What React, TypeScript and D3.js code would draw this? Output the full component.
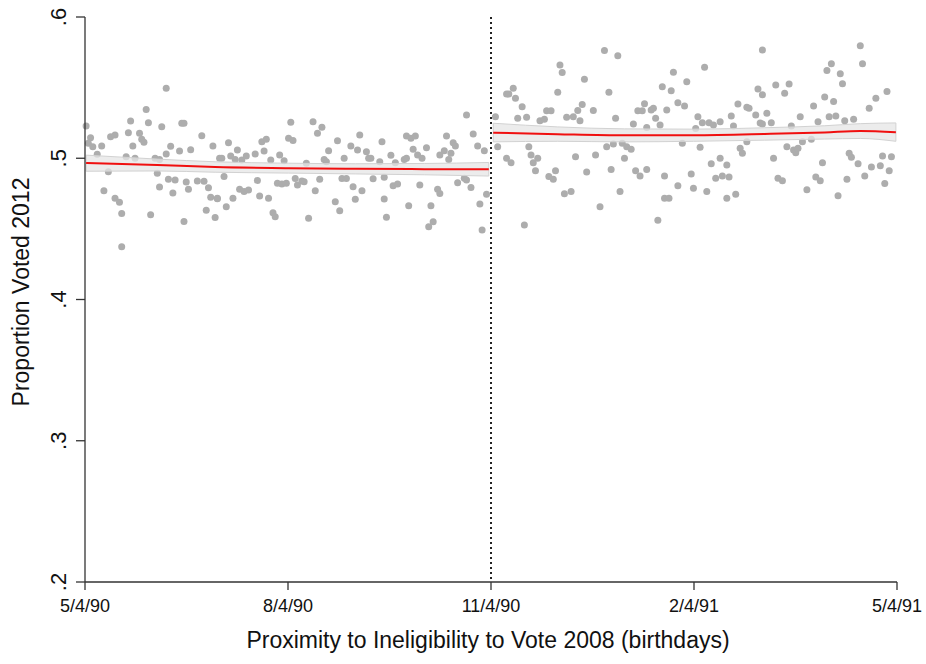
import * as d3 from "d3"

// days from the 11/4/90 cutoff, and the share of that birthday cohort who voted in 2012
const leftDays = [
  -182, -180, -181, -179, -175, -177, -171, -169, -172, -174, -169, -167, -166, -166, -163, -162, -161, -164,
  -158, -157, -156, -155, -154, -146, -148, -151, -149, -150, -149, -153, -145, -142, -143, -146, -144, -140,
  -139, -138, -135, -137, -136, -132, -129, -127, -130, -125, -126, -123, -128, -124, -138, -122, -160,
  -121, -118, -114, -117, -115, -112, -110, -106, -103, -101, -102, -120, -123, -116, -119, -113, -111, -109,
  -105, -104, -100, -98, -97, -99, -95, -93, -96, -94, -92, -90, -91, -89, -88, -87, -85, -84, -83, -82, -80,
  -78, -76, -77, -79, -75, -74, -73, -69, -66, -67, -65, -70, -68, -63, -62, -61,
  -59, -60, -56, -55, -54, -50, -49, -45, -43, -58, -53, -48, -44, -42, -48, -47, -39, -38, -38, -36, -34, -35,
  -33, -31, -29, -37, -32, -27, -26, -28, -24, -23, -23, -21, -18, -20, -17, -16, -19, -15, -12, -11, -9, -11,
  -8, -6, -3, -2, -5, -4,
]
const leftShares = [
  0.5228, 0.5146, 0.5106, 0.5082, 0.5087, 0.5028, 0.5153, 0.5165, 0.4905, 0.477, 0.4716, 0.4688, 0.4608, 0.4374,
  0.5181, 0.5264, 0.5087, 0.5011, 0.5177, 0.5134, 0.5113, 0.5346, 0.5252, 0.5495, 0.5223, 0.5, 0.4992, 0.4893,
  0.4796, 0.46, 0.4851, 0.4846, 0.4754, 0.503, 0.5085, 0.5051, 0.5247, 0.5247, 0.5061, 0.4832, 0.478, 0.4839,
  0.4837, 0.4792, 0.516, 0.5087, 0.4724, 0.4714, 0.4632, 0.4581, 0.4552, 0.5, 0.5,
  0.5, 0.511, 0.5058, 0.5016, 0.4992, 0.4988, 0.5016, 0.503, 0.5116, 0.5134, 0.5051, 0.4871, 0.4716, 0.4716,
  0.4657, 0.4781, 0.4765, 0.4775, 0.4843, 0.4733, 0.4716, 0.4614, 0.4585, 0.4988, 0.5023, 0.4983, 0.4823,
  0.4818, 0.4823, 0.5255, 0.5142, 0.5126, 0.4857, 0.481, 0.4839, 0.4834, 0.4964, 0.4575, 0.5259, 0.5177,
  0.5219, 0.4851, 0.477, 0.4992, 0.4976, 0.5053, 0.5124, 0.5, 0.4857, 0.4857, 0.4692, 0.4629, 0.5087, 0.4799,
  0.4709,
  0.5165, 0.5058, 0.5046, 0.5, 0.5, 0.4976, 0.5116, 0.5021, 0.4968, 0.477, 0.4854, 0.4866, 0.4805, 0.4817,
  0.4712, 0.4582, 0.4992, 0.5, 0.5158, 0.5141, 0.5158, 0.5063, 0.5023, 0.5, 0.5075, 0.4664, 0.4811, 0.4664,
  0.4551, 0.4515, 0.4781, 0.475, 0.5023, 0.5053, 0.5035, 0.5158, 0.511, 0.5087, 0.4992, 0.4827, 0.4858,
  0.4846, 0.4793, 0.5306, 0.5172, 0.5087, 0.5053, 0.4746, 0.4676, 0.4492,
]
const rightDays = [
  2, 3, 7, 8, 10, 11, 14, 12, 16, 7, 9, 17, 18, 19, 21, 20, 15, 22, 24, 25, 27, 26, 28, 29, 30, 31, 32, 34, 37,
  33, 36, 39, 41, 40, 38, 42, 43, 46, 47, 49, 51, 57, 53, 56, 52, 55, 54, 58, 59, 61, 60,
  63, 64, 65, 67, 70, 66, 68, 69, 72, 73, 70, 74, 76, 77, 82, 81, 79, 78, 78, 80, 75, 84, 84, 87, 88, 86, 90,
  91, 92, 93, 94, 96, 95, 98, 100, 103, 97, 99, 103, 106, 101, 104, 107, 106, 110, 108, 111, 109, 112, 113,
  115, 115, 116, 119, 120, 122, 121, 122,
  124, 122, 126, 128, 134, 132, 127, 129, 131, 133, 136, 137, 138, 135, 139, 140, 142, 145, 147, 144, 146, 148,
  149, 150, 154, 151, 153, 157, 158, 152, 155, 159, 163, 156, 160, 161, 162, 165, 166, 167, 168, 170, 171, 175,
  173, 178, 176, 180, 179, 177,
]
const rightShares = [
  0.5294, 0.5082, 0.5455, 0.5455, 0.5495, 0.5425, 0.5365, 0.5283, 0.529, 0.5, 0.4969, 0.5082, 0.5023, 0.4969,
  0.5, 0.4912, 0.4527, 0.5266, 0.5276, 0.5337, 0.5337, 0.4871, 0.4851, 0.4912, 0.5468, 0.5661, 0.5607, 0.529,
  0.5294, 0.4749, 0.4765, 0.5338, 0.538, 0.5266, 0.5011, 0.5559, 0.4902, 0.5338, 0.5023, 0.4657, 0.5762,
  0.5725, 0.5468, 0.5283, 0.5082, 0.5101, 0.4921, 0.4765, 0.5106, 0.5082, 0.5,
  0.5063, 0.5243, 0.4912, 0.4875, 0.4921, 0.5337, 0.5337, 0.5385, 0.5342, 0.5354, 0.5217, 0.5283, 0.5236,
  0.5507, 0.5609, 0.5477, 0.5342, 0.4875, 0.4716, 0.4716, 0.4561, 0.4806, 0.5393, 0.537, 0.5542, 0.5106,
  0.4889, 0.4788, 0.521, 0.5293, 0.5077, 0.5644, 0.5252, 0.5252, 0.5236, 0.5259, 0.4765, 0.4961, 0.5, 0.4953,
  0.4858, 0.4875, 0.4867, 0.4716, 0.4746, 0.5299, 0.5384, 0.5228, 0.5071, 0.5035, 0.5116, 0.5361, 0.5354,
  0.5307, 0.549, 0.545, 0.5249, 0.5767,
  0.5319, 0.5243, 0.5252, 0.5519, 0.5526, 0.546, 0.5, 0.4858, 0.4841, 0.5082, 0.5058, 0.5039, 0.5071, 0.5228,
  0.5294, 0.5116, 0.4777, 0.537, 0.5259, 0.5134, 0.4867, 0.4841, 0.4968, 0.5434, 0.5401, 0.5621, 0.5669,
  0.5598, 0.5527, 0.5294, 0.5299, 0.5266, 0.5276, 0.4735, 0.4851, 0.5035, 0.5007, 0.4961, 0.5796, 0.5669,
  0.4875, 0.5354, 0.4938, 0.4947, 0.5425, 0.5472, 0.5016, 0.5011, 0.4912, 0.4822,
]

// local fit with 95% band, each side of the cutoff
const fitLeftDays = [-182, -150, -124, -91, -61, -30, -1]
const fitLeft = [0.4966, 0.4952, 0.4938, 0.493, 0.4925, 0.4923, 0.4922]
const fitLeftLo = [0.4908, 0.491, 0.4901, 0.4895, 0.4889, 0.4883, 0.4874]
const fitLeftHi = [0.5022, 0.4994, 0.4975, 0.4965, 0.4961, 0.4963, 0.497]
const fitRightDays = [1, 30, 60, 91, 123, 150, 166, 182]
const fitRight = [0.5181, 0.517, 0.5162, 0.5163, 0.5172, 0.5183, 0.5193, 0.5184]
const fitRightLo = [0.5116, 0.512, 0.5116, 0.512, 0.5128, 0.5136, 0.514, 0.512]
const fitRightHi = [0.5248, 0.5222, 0.5208, 0.5206, 0.5216, 0.523, 0.5245, 0.525]

const xTicks = [-182.5, -91.25, 0, 91.25, 182.5]
const xTickLabels = ["5/4/90", "8/4/90", "11/4/90", "2/4/91", "5/4/91"]
const yTicks = [0.2, 0.3, 0.4, 0.5, 0.6]
const yTickLabels = [".2", ".3", ".4", ".5", ".6"]

const W = 926
const H = 664
const FONT = "'Liberation Sans', Arial, Helvetica, sans-serif"
const AXIS = "#333"

export default function App() {
  const x = d3.scaleLinear().domain([-182.5, 182.5]).range([85, 897])
  const y = d3.scaleLinear().domain([0.2, 0.6]).range([582, 17])

  const pts = [
    ...leftDays.map((d, i) => ({ d, v: leftShares[i] })),
    ...rightDays.map((d, i) => ({ d, v: rightShares[i] })),
  ]

  const band = d3.area<number>()
    .x(d => x(d))
    .curve(d3.curveMonotoneX)
  const line = d3.line<number>()
    .x(d => x(d))
    .curve(d3.curveMonotoneX)

  const sides = [
    { days: fitLeftDays, fit: fitLeft, lo: fitLeftLo, hi: fitLeftHi },
    { days: fitRightDays, fit: fitRight, lo: fitRightLo, hi: fitRightHi },
  ]

  return (
    <svg width={W} height={H} style={{ position: "absolute", left: 0, top: 0, background: "#fff" }}
      fontFamily={FONT}>
      <g>
        {pts.map((p, i) => (
          <circle key={i} cx={x(p.d)} cy={y(p.v)} r={3.5} fill="#adadad" />
        ))}
      </g>

      {sides.map((s, k) => {
        const area = band
          .y0((_, i) => y(s.lo[i]))
          .y1((_, i) => y(s.hi[i]))
        const path = line.y((_, i) => y(s.fit[i]))
        return (
          <g key={k}>
            <path d={area(s.days) || ""} fill="#e6e6e6" fillOpacity={0.75} stroke="#d2d2d2" strokeWidth={1} />
            <path d={path(s.days) || ""} fill="none" stroke="#f01010" strokeWidth={2} />
          </g>
        )
      })}

      <line x1={x(0)} x2={x(0)} y1={y(0.6)} y2={y(0.2)} stroke="#222" strokeWidth={2}
        strokeDasharray="2 3" />

      {/* y axis */}
      <line x1={85} x2={85} y1={y(0.6)} y2={y(0.2)} stroke={AXIS} strokeWidth={1.3} />
      {yTicks.map((t, i) => (
        <g key={t}>
          <line x1={76} x2={85} y1={y(t)} y2={y(t)} stroke={AXIS} strokeWidth={1.3} />
          <text transform={`translate(66,${y(t)}) rotate(-90)`} textAnchor="middle" fontSize={22}
            fill="#111">{yTickLabels[i]}</text>
        </g>
      ))}

      {/* x axis */}
      <line x1={85} x2={897} y1={582} y2={582} stroke={AXIS} strokeWidth={1.3} />
      {xTicks.map((t, i) => (
        <g key={t}>
          <line x1={x(t)} x2={x(t)} y1={582} y2={590} stroke={AXIS} strokeWidth={1.3} />
          <text x={x(t)} y={612} textAnchor="middle" fontSize={18} fill="#111">{xTickLabels[i]}</text>
        </g>
      ))}

      <text x={488} y={648} textAnchor="middle" fontSize={23} fill="#111">
        Proximity to Ineligibility to Vote 2008 (birthdays)
      </text>
      <text transform="translate(29,292) rotate(-90)" textAnchor="middle" fontSize={23} fill="#111">
        Proportion Voted 2012
      </text>
    </svg>
  )
}
